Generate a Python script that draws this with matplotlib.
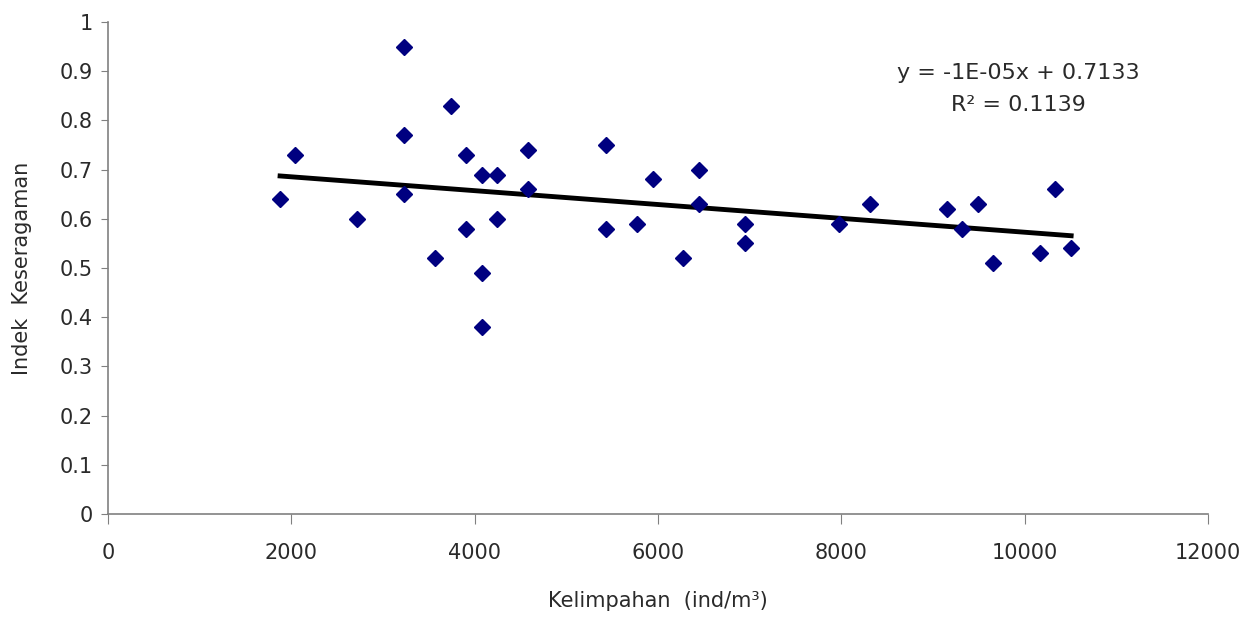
import numpy as np
import matplotlib
matplotlib.use("Agg")
import matplotlib.pyplot as plt

# Kelimpahan (ind/m3) vs Indek Keseragaman
kelimpahan = [1877, 2040, 2717, 3230, 3230, 3230, 3568, 3742, 3906, 3906,
              4080, 4080, 4080, 4244, 4244, 4582, 4582, 5433, 5433, 5771,
              5946, 6273, 6448, 6448, 6950, 6950, 7975, 8313, 9153, 9317,
              9492, 9655, 10168, 10332, 10507]
keseragaman = [0.64, 0.73, 0.60, 0.95, 0.77, 0.65, 0.52, 0.83, 0.73, 0.58,
               0.69, 0.49, 0.38, 0.69, 0.60, 0.74, 0.66, 0.75, 0.58, 0.59,
               0.68, 0.52, 0.70, 0.63, 0.59, 0.55, 0.59, 0.63, 0.62, 0.58,
               0.63, 0.51, 0.53, 0.66, 0.54]

x_ticks = [0, 2000, 4000, 6000, 8000, 10000, 12000]
y_ticks = [0, 0.1, 0.2, 0.3, 0.4, 0.5, 0.6, 0.7, 0.8, 0.9, 1]
y_tick_labels = ["0", "0.1", "0.2", "0.3", "0.4", "0.5", "0.6", "0.7", "0.8", "0.9", "1"]

plt.rcParams["font.family"] = ["DejaVu Sans"]
TEXT = "#2a2a2a"

fig = plt.figure(figsize=(12.56, 6.17), dpi=100)
ax = fig.add_axes([0.086, 0.167, 0.8758, 0.7973])

x = np.array(kelimpahan, dtype=float)
y = np.array(keseragaman)
ax.plot(x, y, linestyle="none", marker="D", markersize=8.5, color="#000080", zorder=3)

# garis trend linear
slope, intercept = np.polyfit(x, y, 1)
xs = np.array([x.min(), x.max()])
ax.plot(xs, slope * xs + intercept, color="black", linewidth=3.5, zorder=2)

ax.text(9930, 0.897, "y = -1E-05x + 0.7133", ha="center", va="center", fontsize=16, color=TEXT)
ax.text(9930, 0.832, "R² = 0.1139", ha="center", va="center", fontsize=16, color=TEXT)

ax.set_xlim(0, 12000)
ax.set_ylim(0, 1)
ax.set_xticks(x_ticks)
ax.set_yticks(y_ticks)
ax.set_yticklabels(y_tick_labels)

for side in ["top", "right"]:
    ax.spines[side].set_visible(False)
for side in ["left", "bottom"]:
    ax.spines[side].set_color("#808080")
    ax.spines[side].set_linewidth(1.2)
ax.tick_params(axis="x", direction="out", length=7, color="#808080", labelsize=15,
               pad=14, labelcolor=TEXT)
ax.tick_params(axis="y", direction="out", length=5, color="#808080", labelsize=15,
               pad=6, labelcolor=TEXT)

ax.set_xlabel("Kelimpahan  (ind/m³)", fontsize=15, labelpad=20, color=TEXT)
ax.set_ylabel("Indek  Keseragaman", fontsize=15, labelpad=20, color=TEXT)

fig.savefig("out.png", dpi=100, facecolor="white")
